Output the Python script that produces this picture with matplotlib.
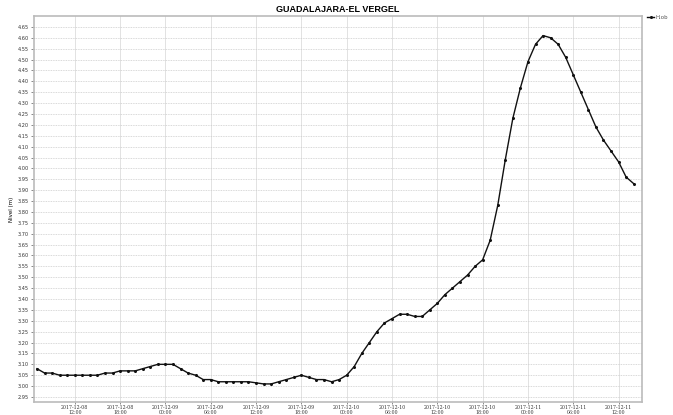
import matplotlib
matplotlib.use("Agg")
import matplotlib.pyplot as plt
import matplotlib.dates as mdates
import numpy as np
import pandas as pd

# hourly observed level, starting 2017-12-08 07:00
start = "2017-12-08 07:00"
levels = [
    3.08, 3.06, 3.06, 3.05, 3.05, 3.05, 3.05, 3.05, 3.05, 3.06,
    3.06, 3.07, 3.07, 3.07, 3.08, 3.09, 3.10, 3.10, 3.10, 3.08,
    3.06, 3.05, 3.03, 3.03, 3.02, 3.02, 3.02, 3.02, 3.02, 3.015,
    3.01, 3.01, 3.02, 3.03, 3.04, 3.05, 3.04, 3.03, 3.03, 3.02,
    3.03, 3.05, 3.09, 3.15, 3.20, 3.25, 3.29, 3.31, 3.33, 3.33,
    3.32, 3.32, 3.35, 3.38, 3.42, 3.45, 3.48, 3.51, 3.55, 3.58,
    3.67, 3.83, 4.04, 4.23, 4.37, 4.49, 4.57, 4.61, 4.60, 4.57,
    4.51, 4.43, 4.35, 4.27, 4.19, 4.13, 4.08, 4.03, 3.96, 3.93,
]
times = pd.date_range(start, periods=len(levels), freq="h")

title = "GUADALAJARA-EL VERGEL"
ylabel = "Nivel (m)"
series_name = "H.ob"
yticks = np.round(np.arange(2.95, 4.651, 0.05), 2)
xticks = pd.date_range("2017-12-08 12:00", "2017-12-11 12:00", freq="6h")

fig = plt.figure(figsize=(6.73, 4.15), dpi=100)
ax = fig.add_axes([34 / 673, 13 / 415, 608 / 673, 386 / 415])

ax.plot(times, levels, color="#111111", linewidth=1.0, marker="o",
        markersize=1.2, label=series_name)

ax.set_ylim(2.927, 4.70)
ax.set_xlim(times[0] - pd.Timedelta(minutes=24),
            times[0] + pd.Timedelta(hours=80, minutes=6))

ax.set_yticks(yticks)
ax.set_yticklabels([f"{v:.2f}" for v in yticks], fontsize=3.6)
ax.set_xticks(xticks)
ax.xaxis.set_major_formatter(mdates.DateFormatter("%Y-%m-%d\n%H:%M"))
for lbl in ax.get_xticklabels():
    lbl.set_fontsize(3.4)
    lbl.set_family("DejaVu Serif")
    lbl.set_linespacing(1.0)
ax.tick_params(axis="y", length=2, width=0.4, colors="#333333", pad=1.5)
ax.tick_params(axis="x", length=1.2, width=0.4, colors="#333333", pad=0.6)

ax.grid(axis="y", color="#cccccc", linestyle=(0, (1, 1)), linewidth=0.6)
ax.grid(axis="x", color="#dddddd", linestyle="-", linewidth=0.6)
for s in ax.spines.values():
    s.set_color("#bbbbbb")
    s.set_linewidth(1.2)

ax.set_ylabel(ylabel, fontsize=4, labelpad=3)
fig.text(338 / 673, 1 - 9 / 415, title, ha="center", va="center",
         fontsize=6.5, fontweight="bold", family="Liberation Sans")

fig.legend(loc="upper left", bbox_to_anchor=(645 / 673, 1 - 13 / 415),
           frameon=False, fontsize=4, handlelength=1.2, handletextpad=0.3,
           borderaxespad=0, labelcolor="#555555")

fig.savefig("out.png", dpi=100)
